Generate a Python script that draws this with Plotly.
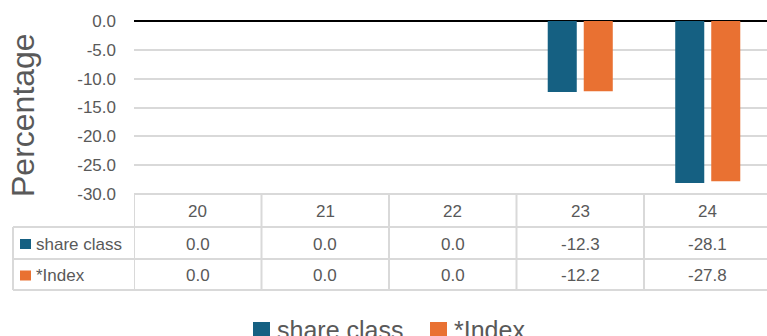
import plotly.graph_objects as go

# Fund vs index annual returns (%)
years = ["20", "21", "22", "23", "24"]
share_class = [0.0, 0.0, 0.0, -12.3, -28.1]
index_vals = [0.0, 0.0, 0.0, -12.2, -27.8]
series_names = ["share class", "*Index"]
series_colors = ["#156082", "#E97132"]
y_ticks = [0, -5, -10, -15, -20, -25, -30]

W, H = 767, 336
FONT = "Liberation Sans"
TXT = "#595959"
GRID = "#d9d9d9"


def px(x):
    return x / W


def py(y):
    return 1 - y / H


fig = go.Figure()
for name, vals, col in zip(series_names, [share_class, index_vals], series_colors):
    fig.add_trace(go.Bar(x=years, y=vals, name=name, marker=dict(color=col, line=dict(width=0)),
                         showlegend=False))

shapes = []
annotations = []

# data table beneath the plot
t_top, r1, r2, t_bot = 194, 227, 259, 290
lbl_left = 13
line = dict(color=GRID, width=2)
shapes.append(dict(type="line", xref="x", yref="paper", x0=-0.5, x1=len(years) - 0.5,
                   y0=py(t_top), y1=py(t_top), line=line))
for yy in (r1, r2, t_bot):
    shapes.append(dict(type="line", xref="paper", yref="paper", x0=px(lbl_left), x1=1.01,
                       y0=py(yy), y1=py(yy), line=line))
shapes.append(dict(type="line", xref="paper", yref="paper", x0=px(lbl_left), x1=px(lbl_left),
                   y0=py(r1), y1=py(t_bot), line=line))
for i in range(len(years) + 1):
    shapes.append(dict(type="line", xref="x", yref="paper", x0=i - 0.5, x1=i - 0.5,
                       y0=py(t_top), y1=py(t_bot), line=line))

cell_font = dict(family=FONT, size=17, color=TXT)
for i, yr in enumerate(years):
    annotations.append(dict(x=i, y=py((t_top + r1) / 2 + 1), xref="x", yref="paper", text=yr,
                            showarrow=False, font=cell_font, xanchor="center", yanchor="middle"))
for row, (name, vals, col) in enumerate(zip(series_names, [share_class, index_vals], series_colors)):
    top, bot = (r1, r2) if row == 0 else (r2, t_bot)
    mid = (top + bot) / 2 + 1
    shapes.append(dict(type="rect", xref="paper", yref="paper", x0=px(20), x1=px(31),
                       y0=py(mid - 5), y1=py(mid + 5), fillcolor=col, line=dict(width=0)))
    annotations.append(dict(x=px(34), y=py(mid), xref="paper", yref="paper", text=name,
                            showarrow=False, font=cell_font, xanchor="left", yanchor="middle"))
    for i, v in enumerate(vals):
        annotations.append(dict(x=i, y=py(mid), xref="x", yref="paper", text=f"{v:.1f}",
                                showarrow=False, font=cell_font, xanchor="center", yanchor="middle"))

# legend at the bottom
leg = [(253, 275), (430, 452)]
for (sx, tx), name, col in zip(leg, series_names, series_colors):
    shapes.append(dict(type="rect", xref="paper", yref="paper", x0=px(sx), x1=px(sx + 17),
                       y0=py(339), y1=py(322), fillcolor=col, line=dict(width=0)))
    annotations.append(dict(x=px(tx), y=py(330), xref="paper", yref="paper", text=name,
                            showarrow=False, font=dict(family=FONT, size=25, color=TXT),
                            xanchor="left", yanchor="middle"))

# y-axis title
annotations.append(dict(x=px(23), y=py(115), xref="paper", yref="paper", text="Percentage",
                        textangle=-90, showarrow=False, font=dict(family=FONT, size=32, color=TXT),
                        xanchor="center", yanchor="middle"))

x_end = -0.5 + (W - 134) / 127.5

fig.update_layout(
    width=W, height=H,
    margin=dict(l=0, r=0, t=0, b=0),
    paper_bgcolor="white", plot_bgcolor="white",
    barmode="group", bargap=0.435, bargroupgap=0.194,
    xaxis=dict(type="category", domain=[134 / W, 1], range=[-0.5, x_end], automargin=False,
               showticklabels=False, showgrid=False, zeroline=False, showline=False, ticks=""),
    yaxis=dict(domain=[py(194), py(21)], range=[-30, 0], tickvals=y_ticks, automargin=False,
               ticktext=[f"{v:.1f}" for v in y_ticks],
               showgrid=True, gridcolor=GRID, gridwidth=1.5,
               zeroline=True, zerolinecolor="#000000", zerolinewidth=1.5,
               showline=False, ticks="", ticklabelstandoff=17,
               tickfont=dict(family=FONT, size=17, color=TXT)),
    shapes=shapes, annotations=annotations,
    showlegend=False,
)

fig.write_html("out.html")
